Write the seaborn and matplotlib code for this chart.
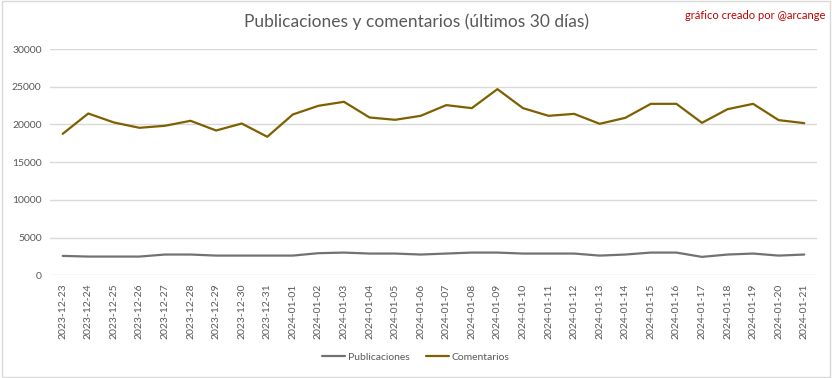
import numpy as np
import pandas as pd
import matplotlib.pyplot as plt
import seaborn as sns
from matplotlib.patches import Rectangle

fechas = ["2023-12-23", "2023-12-24", "2023-12-25", "2023-12-26", "2023-12-27",
          "2023-12-28", "2023-12-29", "2023-12-30", "2023-12-31", "2024-01-01",
          "2024-01-02", "2024-01-03", "2024-01-04", "2024-01-05", "2024-01-06",
          "2024-01-07", "2024-01-08", "2024-01-09", "2024-01-10", "2024-01-11",
          "2024-01-12", "2024-01-13", "2024-01-14", "2024-01-15", "2024-01-16",
          "2024-01-17", "2024-01-18", "2024-01-19", "2024-01-20", "2024-01-21"]

publicaciones = [2560, 2470, 2470, 2470, 2740, 2740, 2600, 2600, 2600, 2600,
                 2920, 3000, 2870, 2870, 2740, 2870, 3000, 3000, 2870, 2870,
                 2870, 2600, 2740, 3000, 3000, 2430, 2740, 2870, 2600, 2740]

comentarios = [18760, 21460, 20270, 19560, 19830, 20490, 19200, 20130, 18370, 21330,
               22480, 23010, 20930, 20620, 21150, 22570, 22170, 24690, 22170, 21150,
               21410, 20090, 20880, 22740, 22740, 20220, 22030, 22740, 20580, 20180]

df = pd.DataFrame({
    "pos": list(range(len(fechas))) * 2,
    "valor": publicaciones + comentarios,
    "serie": ["Publicaciones"] * len(fechas) + ["Comentarios"] * len(fechas),
})

sns.set_theme(style="white")
plt.rcParams['font.family'] = ['Lato', 'DejaVu Sans']

fig = plt.figure(figsize=(8.32, 3.78), dpi=100)
ax = fig.add_axes([0.060, 0.272, 0.922, 0.598])

for v in range(0, 30001, 5000):
    ax.axhline(v, color="#D9D9D9", lw=1, zorder=0)

sns.lineplot(data=df, x="pos", y="valor", hue="serie",
             palette={"Publicaciones": "#767171", "Comentarios": "#7F6000"},
             linewidth=1.6, ax=ax, legend=False)

ax.set_xlim(-0.5, len(fechas) - 0.5)
ax.set_ylim(0, 30000)
ax.set_yticks(range(0, 30001, 5000))
ax.set_yticklabels([str(v) for v in range(0, 30001, 5000)], fontsize=7.5, color="#595959")
ax.set_xticks(range(len(fechas)))
ax.set_xticklabels(fechas, rotation=90, fontsize=7.5, color="#595959")
ax.tick_params(length=0, pad=6)
ax.set_xlabel("")
ax.set_ylabel("")
for s in ax.spines.values():
    s.set_visible(False)

fig.text(0.50, 0.942, "Publicaciones y comentarios (últimos 30 días)",
         ha="center", va="center", fontsize=12.5, color="#595959")
fig.text(0.992, 0.958, "gráfico creado por @arcange",
         ha="right", va="center", fontsize=8, color="#C00000")

handles = [plt.Line2D([], [], color="#767171", lw=1.6),
           plt.Line2D([], [], color="#7F6000", lw=1.6)]
fig.legend(handles, ["Publicaciones", "Comentarios"], loc="center",
           bbox_to_anchor=(0.5, 0.055), ncol=2, frameon=False, fontsize=7.5,
           handlelength=2.2, handletextpad=0.3, columnspacing=1.5,
           labelcolor="#595959")

fig.patches.append(Rectangle((0.002, 0.003), 0.995, 0.994, transform=fig.transFigure,
                             fill=False, edgecolor="#D9D9D9", lw=1))

fig.savefig("out.png", dpi=100, facecolor="white")
